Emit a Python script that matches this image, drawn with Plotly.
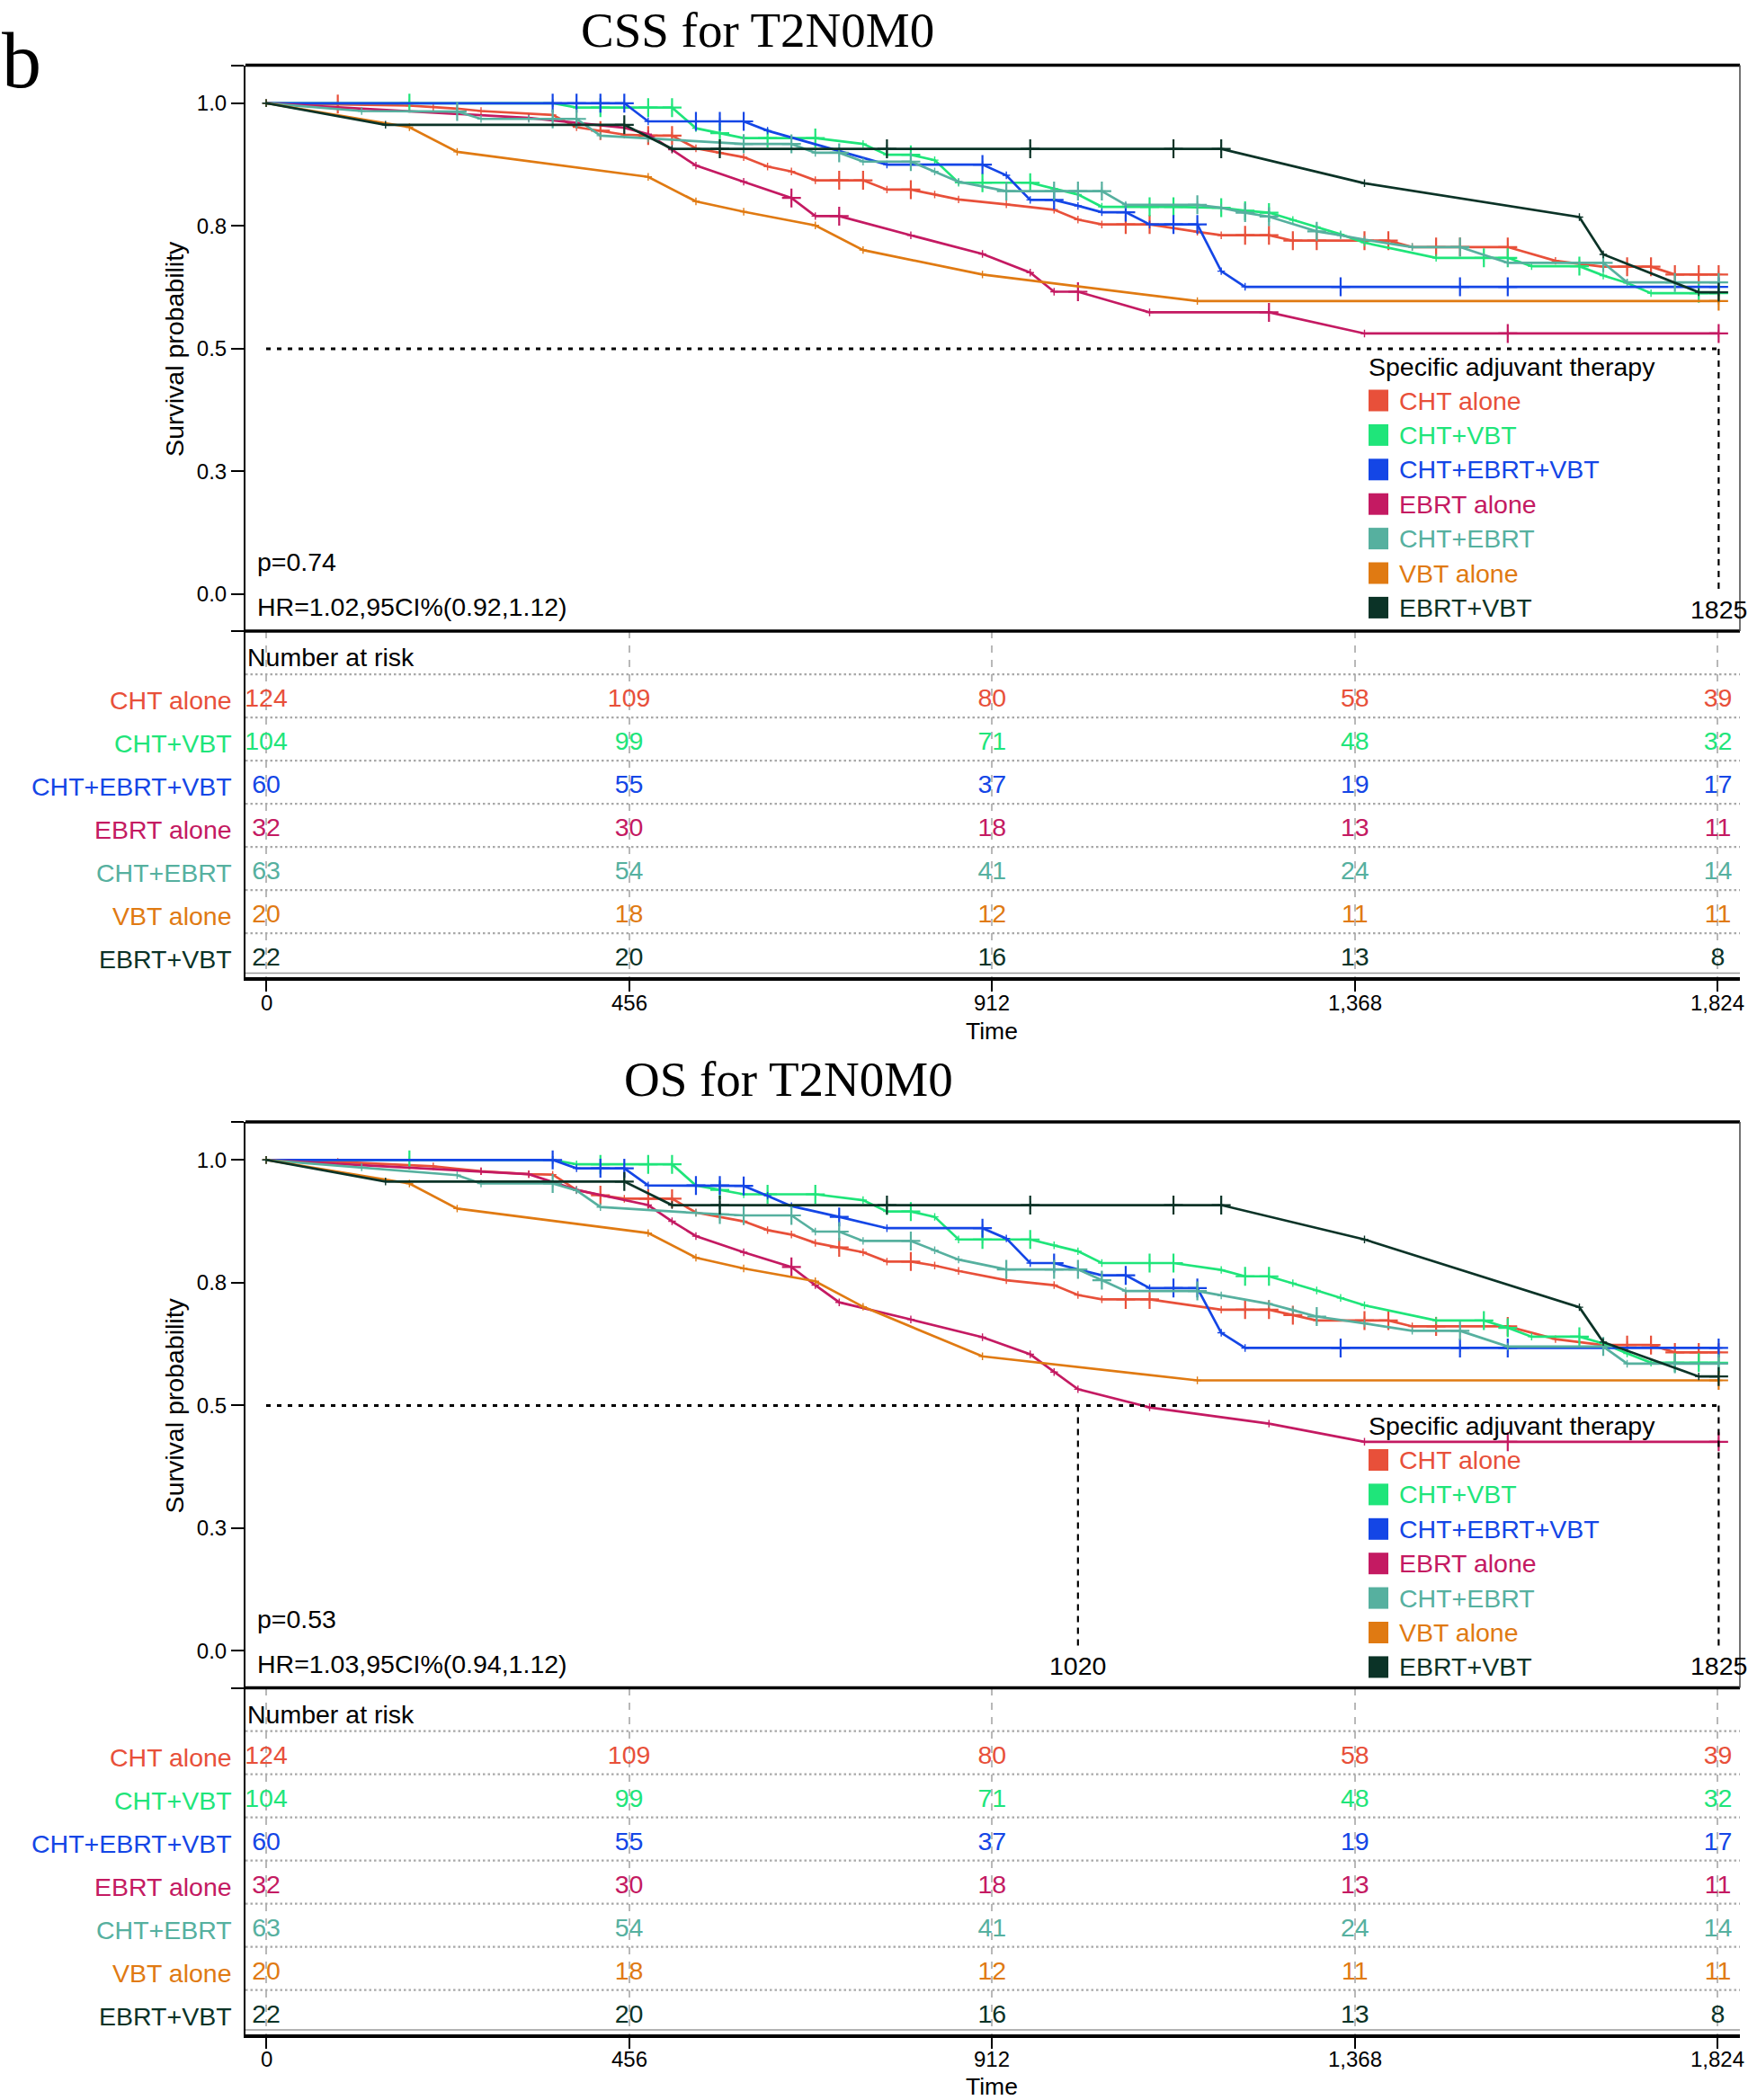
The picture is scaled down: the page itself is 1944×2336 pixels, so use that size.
import plotly.graph_objects as go

W, H = 1944, 2336

# ---------------- data ----------------
panel_titles = ["CSS for T2N0M0", "OS for T2N0M0"]
panel_letter = "b"
groups = ["CHT alone", "CHT+VBT", "CHT+EBRT+VBT", "EBRT alone", "CHT+EBRT", "VBT alone", "EBRT+VBT"]
colors = ["#E8503A", "#1FE57A", "#1446E6", "#C41A62", "#56B09F", "#E07A12", "#0B3327"]

y_tickvals = [0.0, 0.25, 0.5, 0.75, 1.0]
y_ticktext = ["0.0", "0.3", "0.5", "0.8", "1.0"]
risk_times = [0, 456, 912, 1368, 1824]
risk_ticktext = ["0", "456", "912", "1,368", "1,824"]

risk_cht_alone = [124, 109, 80, 58, 39]
risk_cht_vbt = [104, 99, 71, 48, 32]
risk_cht_ebrt_vbt = [60, 55, 37, 19, 17]
risk_ebrt_alone = [32, 30, 18, 13, 11]
risk_cht_ebrt = [63, 54, 41, 24, 14]
risk_vbt_alone = [20, 18, 12, 11, 11]
risk_ebrt_vbt = [22, 20, 16, 13, 8]

p_texts = ["p=0.74", "p=0.53"]
hr_texts = ["HR=1.02,95CI%(0.92,1.12)", "HR=1.03,95CI%(0.94,1.12)"]
median_css = [1825]
median_os = [1020, 1825]

# ---- CSS curves (time in days, survival, censor times) ----
css_cht_t = [0, 90, 180, 210, 240, 270, 360, 390, 420, 450, 480, 510, 540, 570, 600, 630, 660, 690, 720, 750,
             780, 810, 840, 870, 930, 990, 1020, 1050, 1080, 1110, 1170, 1200, 1230, 1260, 1290, 1320, 1380, 1410,
             1440, 1470, 1500, 1560, 1620, 1650, 1680, 1710, 1740, 1770, 1800, 1825]
css_cht_s = [1.0, 0.998, 0.995, 0.992, 0.989, 0.984, 0.976, 0.951, 0.944, 0.936, 0.934, 0.934, 0.908, 0.899, 0.890,
             0.871, 0.861, 0.843, 0.843, 0.843, 0.824, 0.824, 0.814, 0.804, 0.794, 0.783, 0.763, 0.753, 0.753, 0.753,
             0.738, 0.731, 0.731, 0.731, 0.720, 0.720, 0.720, 0.720, 0.707, 0.707, 0.707, 0.707, 0.679, 0.673, 0.667,
             0.667, 0.667, 0.651, 0.651, 0.651]
css_cht_c = [90, 420, 480, 510, 720, 750, 810, 1080, 1110, 1230, 1260, 1290, 1320, 1380, 1410, 1470, 1500, 1560,
             1710, 1740, 1770, 1800, 1825]

css_vbt_t = [0, 180, 360, 390, 420, 480, 510, 540, 570, 600, 630, 690, 750, 780, 810, 840, 870, 900, 960, 990,
             1020, 1050, 1110, 1140, 1200, 1230, 1260, 1290, 1320, 1350, 1380, 1470, 1530, 1560, 1590, 1650, 1680,
             1710, 1740, 1800, 1825]
css_vbt_s = [1.0, 1.0, 1.0, 0.991, 0.991, 0.991, 0.991, 0.949, 0.939, 0.929, 0.929, 0.929, 0.917, 0.895, 0.895,
             0.884, 0.838, 0.838, 0.838, 0.826, 0.814, 0.789, 0.789, 0.789, 0.787, 0.781, 0.777, 0.762, 0.748, 0.733,
             0.716, 0.685, 0.685, 0.685, 0.668, 0.668, 0.649, 0.634, 0.613, 0.613, 0.613]
css_vbt_c = [180, 420, 480, 510, 570, 630, 690, 810, 900, 960, 1110, 1140, 1200, 1230, 1260, 1530, 1560, 1650,
             1800, 1825]

css_ebv_t = [0, 360, 390, 420, 450, 480, 540, 570, 600, 630, 780, 900, 930, 960, 990, 1020, 1050, 1080, 1110,
             1140, 1170, 1200, 1230, 1350, 1500, 1560, 1825]
css_ebv_s = [1.0, 1.0, 1.0, 1.0, 1.0, 0.963, 0.963, 0.963, 0.963, 0.944, 0.875, 0.875, 0.853, 0.803, 0.803, 0.791,
             0.778, 0.778, 0.753, 0.753, 0.753, 0.658, 0.626, 0.626, 0.626, 0.626, 0.626]
css_ebv_c = [360, 390, 420, 450, 540, 570, 600, 900, 990, 1080, 1140, 1170, 1350, 1500, 1560, 1825]

css_ebrt_t = [0, 330, 450, 480, 510, 540, 600, 660, 690, 720, 810, 900, 960, 990, 1020, 1110, 1260, 1380, 1560, 1825]
css_ebrt_s = [1.0, 0.970, 0.950, 0.937, 0.905, 0.873, 0.840, 0.807, 0.770, 0.770, 0.731, 0.693, 0.655, 0.616,
              0.616, 0.574, 0.574, 0.531, 0.531, 0.531]
css_ebrt_c = [660, 720, 1020, 1260, 1560, 1825]

css_cebrt_t = [0, 120, 240, 270, 330, 360, 390, 420, 480, 600, 660, 690, 720, 750, 810, 840, 870, 930, 990, 1020,
               1050, 1080, 1170, 1200, 1230, 1260, 1320, 1350, 1380, 1440, 1500, 1560, 1680, 1710, 1770, 1825]
css_cebrt_s = [1.0, 0.984, 0.983, 0.968, 0.968, 0.968, 0.968, 0.934, 0.928, 0.917, 0.917, 0.899, 0.899, 0.881,
               0.881, 0.861, 0.840, 0.821, 0.821, 0.821, 0.821, 0.793, 0.793, 0.787, 0.777, 0.769, 0.739, 0.731,
               0.722, 0.707, 0.707, 0.675, 0.675, 0.635, 0.635, 0.635]
css_cebrt_c = [240, 360, 390, 600, 660, 720, 810, 930, 990, 1020, 1050, 1170, 1230, 1260, 1320, 1500, 1680, 1770, 1825]

css_vbta_t = [0, 180, 240, 480, 540, 600, 690, 750, 900, 1170, 1825]
css_vbta_s = [1.0, 0.951, 0.901, 0.850, 0.800, 0.779, 0.751, 0.701, 0.651, 0.597, 0.597]
css_vbta_c = [1825]

css_ev_t = [0, 150, 450, 510, 570, 780, 960, 1140, 1200, 1380, 1650, 1680, 1800, 1825]
css_ev_s = [1.0, 0.956, 0.956, 0.907, 0.907, 0.907, 0.907, 0.907, 0.907, 0.837, 0.768, 0.692, 0.615, 0.615]
css_ev_c = [450, 570, 780, 960, 1140, 1200, 1825]

# ---- OS curves ----
os_cht_t = [0, 90, 210, 270, 330, 360, 390, 420, 450, 480, 510, 540, 570, 600, 630, 660, 690, 720, 750, 780, 810,
            840, 870, 930, 990, 1020, 1050, 1080, 1110, 1200, 1230, 1260, 1290, 1320, 1380, 1410, 1440, 1470, 1560,
            1620, 1680, 1710, 1740, 1770, 1800, 1825]
os_cht_s = [1.0, 0.996, 0.987, 0.977, 0.971, 0.970, 0.939, 0.928, 0.921, 0.921, 0.921, 0.893, 0.884, 0.875, 0.857,
            0.848, 0.831, 0.822, 0.812, 0.793, 0.793, 0.785, 0.774, 0.755, 0.745, 0.725, 0.716, 0.716, 0.716, 0.695,
            0.695, 0.695, 0.684, 0.673, 0.673, 0.673, 0.661, 0.661, 0.661, 0.635, 0.623, 0.623, 0.623, 0.608, 0.608,
            0.608]
os_cht_c = [420, 480, 510, 720, 810, 1080, 1110, 1230, 1260, 1290, 1380, 1410, 1470, 1560, 1710, 1740, 1770, 1800, 1825]

os_vbt_t = [0, 180, 360, 390, 420, 480, 510, 540, 570, 600, 630, 690, 750, 780, 810, 840, 870, 900, 960, 990,
            1020, 1050, 1110, 1140, 1200, 1230, 1260, 1290, 1320, 1350, 1380, 1470, 1530, 1560, 1590, 1650, 1680,
            1710, 1740, 1770, 1800, 1825]
os_vbt_s = [1.0, 1.0, 1.0, 0.991, 0.991, 0.991, 0.991, 0.948, 0.939, 0.930, 0.930, 0.930, 0.918, 0.895, 0.895,
            0.884, 0.838, 0.838, 0.838, 0.826, 0.814, 0.790, 0.790, 0.790, 0.776, 0.763, 0.763, 0.749, 0.734, 0.719,
            0.704, 0.673, 0.673, 0.658, 0.640, 0.640, 0.626, 0.606, 0.587, 0.587, 0.587, 0.587]
os_vbt_c = [180, 420, 480, 510, 570, 630, 690, 810, 900, 960, 1110, 1140, 1230, 1260, 1530, 1560, 1650, 1770, 1800, 1825]

os_ebv_t = [0, 360, 390, 420, 450, 480, 540, 570, 600, 630, 660, 720, 780, 900, 930, 960, 990, 1020, 1050, 1080,
            1110, 1140, 1170, 1200, 1230, 1350, 1500, 1560, 1825]
os_ebv_s = [1.0, 1.0, 0.983, 0.983, 0.983, 0.948, 0.948, 0.948, 0.947, 0.927, 0.906, 0.884, 0.861, 0.861, 0.840,
            0.790, 0.790, 0.777, 0.765, 0.765, 0.739, 0.739, 0.739, 0.648, 0.617, 0.617, 0.617, 0.617, 0.617]
os_ebv_c = [360, 420, 450, 540, 570, 600, 720, 900, 990, 1080, 1140, 1170, 1350, 1500, 1560, 1825]

os_ebrt_t = [0, 270, 330, 390, 480, 510, 540, 600, 660, 690, 720, 810, 900, 960, 990, 1020, 1110, 1260, 1380, 1560, 1825]
os_ebrt_s = [1.0, 0.977, 0.971, 0.939, 0.908, 0.875, 0.845, 0.812, 0.782, 0.745, 0.710, 0.675, 0.639, 0.604, 0.568,
             0.533, 0.496, 0.463, 0.426, 0.426, 0.426]
os_ebrt_c = [660, 1560, 1825]

os_cebrt_t = [0, 120, 240, 270, 360, 390, 420, 540, 570, 600, 660, 690, 720, 750, 810, 840, 870, 930, 990, 1020,
              1050, 1080, 1170, 1200, 1260, 1290, 1320, 1380, 1440, 1500, 1560, 1680, 1710, 1770, 1825]
os_cebrt_s = [1.0, 0.985, 0.969, 0.952, 0.952, 0.938, 0.904, 0.892, 0.889, 0.887, 0.887, 0.854, 0.854, 0.835, 0.835,
              0.816, 0.797, 0.777, 0.777, 0.777, 0.755, 0.733, 0.733, 0.724, 0.707, 0.694, 0.681, 0.667, 0.652,
              0.652, 0.620, 0.620, 0.585, 0.585, 0.585]
os_cebrt_c = [360, 570, 600, 660, 720, 810, 930, 990, 1020, 1050, 1170, 1320, 1500, 1680, 1770, 1825]

os_vbta_t = [0, 180, 240, 480, 540, 600, 690, 750, 900, 1170, 1825]
os_vbta_s = [1.0, 0.952, 0.901, 0.851, 0.801, 0.779, 0.753, 0.701, 0.600, 0.551, 0.551]
os_vbta_c = [1825]

os_ev_t = [0, 150, 450, 510, 570, 780, 960, 1140, 1200, 1380, 1650, 1680, 1800, 1825]
os_ev_s = [1.0, 0.956, 0.956, 0.908, 0.908, 0.908, 0.908, 0.908, 0.908, 0.838, 0.700, 0.629, 0.559, 0.559]
os_ev_c = [450, 570, 780, 960, 1140, 1200, 1825]

# ---------------- assembly ----------------
risk_rows = [risk_cht_alone, risk_cht_vbt, risk_cht_ebrt_vbt, risk_ebrt_alone, risk_cht_ebrt, risk_vbt_alone,
             risk_ebrt_vbt]
css_curves = [(css_cht_t, css_cht_s, css_cht_c), (css_vbt_t, css_vbt_s, css_vbt_c), (css_ebv_t, css_ebv_s, css_ebv_c),
              (css_ebrt_t, css_ebrt_s, css_ebrt_c), (css_cebrt_t, css_cebrt_s, css_cebrt_c),
              (css_vbta_t, css_vbta_s, css_vbta_c), (css_ev_t, css_ev_s, css_ev_c)]
os_curves = [(os_cht_t, os_cht_s, os_cht_c), (os_vbt_t, os_vbt_s, os_vbt_c), (os_ebv_t, os_ebv_s, os_ebv_c),
             (os_ebrt_t, os_ebrt_s, os_ebrt_c), (os_cebrt_t, os_cebrt_s, os_cebrt_c),
             (os_vbta_t, os_vbta_s, os_vbta_c), (os_ev_t, os_ev_s, os_ev_c)]
panels = [(css_curves, median_css), (os_curves, median_os)]

SANS = "Liberation Sans, Arial, sans-serif"
SERIF = "Liberation Serif, Times New Roman, serif"
FS = 28.5

PX_L, PX_R = 273, 1935
T_LEFT, T_RIGHT = -25.98, 1851.7
Y_RANGE = [-0.0751, 1.0774]
RT_RANGE = [6.4167, -1.6042]
offsets = [0, 1175.5]
legend_offsets = [0, 1178.5]
title_pos = [(842, 33), (877, 1200)]
tick_label_px = 1115
time_title_px = [1147, 2321]


def pyp(p):
    return 1 - p / H


fig = go.Figure()
layout = dict(width=W, height=H, margin=dict(l=0, r=0, t=0, b=0), paper_bgcolor="white",
              plot_bgcolor="white", showlegend=False, font=dict(family=SANS, color="black"))
annotations = []
shapes = []
xd = [PX_L / W, PX_R / W]

for pi, (curves, medians) in enumerate(panels):
    off = offsets[pi]
    kx, ky = ("x", "y") if pi == 0 else ("x3", "y3")
    rx, ry = ("x2", "y2") if pi == 0 else ("x4", "y4")
    kxk = "xaxis" if pi == 0 else "xaxis3"
    kyk = "yaxis" if pi == 0 else "yaxis3"
    rxk = "xaxis2" if pi == 0 else "xaxis4"
    ryk = "yaxis2" if pi == 0 else "yaxis4"

    layout[kxk] = dict(domain=xd, range=[T_LEFT, T_RIGHT], anchor=ky, showticklabels=False, ticks="",
                       showgrid=False, zeroline=False, showline=False)
    layout[kyk] = dict(domain=[pyp(702 + off), pyp(72.5 + off)], range=Y_RANGE, anchor=kx,
                       tickvals=y_tickvals + Y_RANGE, ticktext=y_ticktext + ["", ""], ticks="outside",
                       ticklen=14, tickwidth=2,
                       tickcolor="black", tickfont=dict(size=24, family=SANS, color="black"),
                       showline=True, linewidth=2, linecolor="black", showgrid=False, zeroline=False)
    layout[rxk] = dict(domain=xd, range=[T_LEFT, T_RIGHT], anchor=ry, tickvals=risk_times,
                       showticklabels=False, ticks="outside", ticklen=12, tickwidth=2, tickcolor="black",
                       showgrid=True, gridcolor="#b8b8b8", gridwidth=1.5, griddash="8px,8px", showline=True,
                       linewidth=4, linecolor="black", zeroline=False)
    layout[ryk] = dict(domain=[pyp(1087 + off), pyp(702 + off)], range=RT_RANGE, anchor=rx,
                       showticklabels=False, ticks="", showgrid=False, zeroline=False, showline=True,
                       linewidth=2, linecolor="black")

    # x tick labels of the risk table
    for tv, tt in zip(risk_times, risk_ticktext):
        annotations.append(dict(text=tt, xref=rx, yref="paper", x=tv, y=pyp(tick_label_px + off),
                                xanchor="center", yanchor="middle", showarrow=False,
                                font=dict(size=24, family=SANS)))

    # median reference lines
    shapes.append(dict(type="line", xref=kx, yref=ky, x0=0, x1=max(medians), y0=0.5, y1=0.5,
                       line=dict(color="black", width=3, dash="5px,7px")))
    for m in medians:
        shapes.append(dict(type="line", xref=kx, yref=ky, x0=m, x1=m, y0=0.5, y1=0.0,
                           line=dict(color="black", width=2.2, dash="7px,6px")))
        annotations.append(dict(text=str(m), xref=kx, yref=ky, x=m, y=-0.031, showarrow=False,
                                xanchor="center", yanchor="middle", font=dict(size=FS, family=SANS)))

    # curves
    for g, (t, s, c) in enumerate(curves):
        col = colors[g]
        fig.add_trace(go.Scatter(x=t, y=s, xaxis=kx, yaxis=ky, mode="lines+markers", name=groups[g],
                                 line=dict(color=col, width=2.7),
                                 marker=dict(symbol="cross-thin", size=6, color=col,
                                             line=dict(color=col, width=1.4)),
                                 cliponaxis=False))
        cs = [s[t.index(ci)] for ci in c]
        fig.add_trace(go.Scatter(x=c, y=cs, xaxis=kx, yaxis=ky, mode="markers", name=groups[g],
                                 marker=dict(symbol="cross-thin", size=15, color=col,
                                             line=dict(color=col, width=2.2)),
                                 cliponaxis=False))

    # KM box
    shapes.append(dict(type="line", xref=kx + " domain", yref=ky + " domain", x0=0, x1=1, y0=1, y1=1,
                       line=dict(color="black", width=3.5)))
    shapes.append(dict(type="line", xref=kx + " domain", yref=ky + " domain", x0=0, x1=1, y0=0, y1=0,
                       line=dict(color="black", width=3.5)))
    shapes.append(dict(type="line", xref=kx + " domain", yref=ky + " domain", x0=1, x1=1, y0=0, y1=1,
                       line=dict(color="#444444", width=1.5)))
    # risk table bottom grey line
    shapes.append(dict(type="line", xref=rx + " domain", yref=ry + " domain", x0=0, x1=1, y0=0.012, y1=0.012,
                       line=dict(color="#9a9a9a", width=1.5)))

    # risk table dotted separators
    for i in range(len(groups)):
        shapes.append(dict(type="line", xref=rx + " domain", yref=ry, x0=0, x1=1, y0=i - 0.6, y1=i - 0.6,
                           line=dict(color="#a8a8a8", width=2.2, dash="2.5px,3px")))

    # risk numbers
    for g, row in enumerate(risk_rows):
        fig.add_trace(go.Scatter(x=risk_times, y=[g] * len(row), xaxis=rx, yaxis=ry, mode="text",
                                 text=[str(v) for v in row], textposition="middle center",
                                 textfont=dict(size=FS, color=colors[g], family=SANS), cliponaxis=False))
        annotations.append(dict(text=groups[g], xref="paper", yref=ry, x=260 / W, y=g, xanchor="right",
                                yanchor="middle", showarrow=False, font=dict(size=FS, color=colors[g], family=SANS)))
    annotations.append(dict(text="Number at risk", xref=rx, yref=ry, x=T_LEFT, y=-1.0, xanchor="left",
                            yanchor="middle", showarrow=False, font=dict(size=FS, family=SANS)))
    annotations.append(dict(text="Time", xref=rx, yref="paper", x=912, y=pyp(time_title_px[pi]),
                            xanchor="center", yanchor="middle", showarrow=False, font=dict(size=26.5, family=SANS)))

    # y title
    annotations.append(dict(text="Survival probability", xref="paper", yref=ky, x=194 / W, y=0.5,
                            textangle=-90, xanchor="center", yanchor="middle", showarrow=False,
                            font=dict(size=FS, family=SANS)))
    # p / HR
    annotations.append(dict(text=p_texts[pi], xref="paper", yref="paper", x=284 / W, y=pyp(625 + off),
                            xanchor="left", yanchor="middle", showarrow=False, font=dict(size=FS, family=SANS)))
    annotations.append(dict(text=hr_texts[pi], xref="paper", yref="paper", x=284 / W, y=pyp(675 + off),
                            xanchor="left", yanchor="middle", showarrow=False, font=dict(size=FS, family=SANS)))
    # title
    tx, ty = title_pos[pi]
    annotations.append(dict(text=panel_titles[pi], xref="paper", yref="paper", x=tx / W, y=pyp(ty),
                            xanchor="center", yanchor="middle", showarrow=False,
                            font=dict(size=55, family=SERIF, color="black")))

    # legend
    loff = legend_offsets[pi]
    annotations.append(dict(text="Specific adjuvant therapy", xref="paper", yref="paper", x=1520 / W,
                            y=pyp(407.5 + loff), xanchor="left", yanchor="middle", showarrow=False,
                            font=dict(size=FS, family=SANS)))
    for g in range(len(groups)):
        cy = 445.5 + loff + 38.4 * g
        shapes.append(dict(type="rect", xref="paper", yref="paper", x0=1522 / W, x1=1544 / W,
                           y0=pyp(cy + 12), y1=pyp(cy - 12), line=dict(width=0), fillcolor=colors[g]))
        annotations.append(dict(text=groups[g], xref="paper", yref="paper", x=1554 / W, y=pyp(cy),
                                xanchor="left", yanchor="middle", showarrow=False,
                                font=dict(size=FS, color=colors[g], family=SANS)))

annotations.append(dict(text=panel_letter, xref="paper", yref="paper", x=24 / W, y=pyp(68), xanchor="center",
                        yanchor="middle", showarrow=False, font=dict(size=88, family=SERIF, color="black")))

layout["annotations"] = annotations
layout["shapes"] = shapes
fig.update_layout(**layout)
fig.write_html("out.html", config={"displayModeBar": False},
               post_script="document.body.style.margin='0px';document.body.style.padding='0px';")
